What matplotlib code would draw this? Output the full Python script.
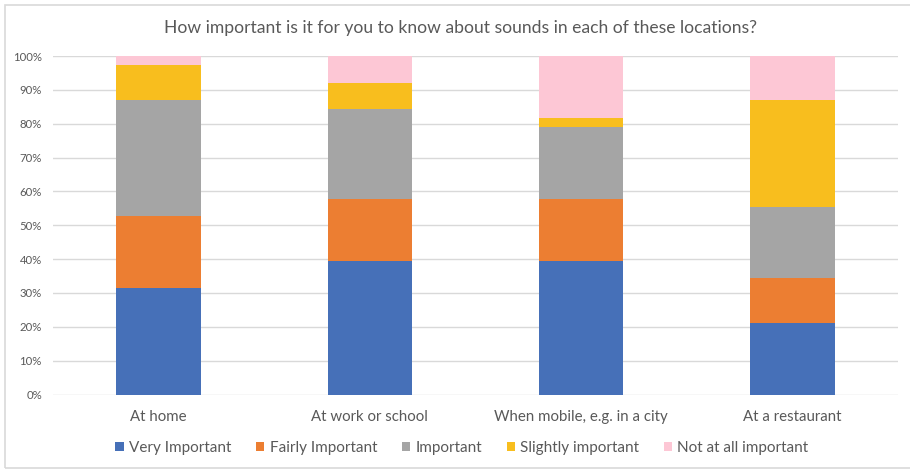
import matplotlib
matplotlib.use("Agg")
import matplotlib.pyplot as plt
from matplotlib.patches import Rectangle
from matplotlib.ticker import PercentFormatter

plt.rcParams['font.family'] = ['Lato', 'DejaVu Sans']

# Survey responses, percent of respondents per location
locations = ["At home", "At work or school", "When mobile, e.g. in a city", "At a restaurant"]
very_important = [31.6, 39.5, 39.5, 21.1]
fairly_important = [21.1, 18.4, 18.4, 13.2]
important = [34.2, 26.3, 21.1, 21.1]
slightly_important = [10.5, 7.9, 2.6, 31.6]
not_important = [2.6, 7.9, 18.4, 13.2]

series_names = ["Very Important", "Fairly Important", "Important",
                "Slightly important", "Not at all important"]
series_values = [very_important, fairly_important, important,
                 slightly_important, not_important]
series_colors = ["#4670B8", "#EC7E32", "#A5A5A5", "#F8BE1E", "#FDC7D5"]

text_color = "#595959"
grid_color = "#D9D9D9"

fig = plt.figure(figsize=(9.10, 4.71), dpi=100)
W, H = 910, 471
ax = fig.add_axes([53 / W, 1 - 394.5 / H, (898 - 53) / W, (394.5 - 56) / H])

x = list(range(len(locations)))
bottom = [0.0] * len(locations)
handles = []
for name, vals, col in zip(series_names, series_values, series_colors):
    b = ax.bar(x, vals, width=0.40, bottom=bottom, color=col, label=name,
               edgecolor="none", zorder=3)
    handles.append(b)
    bottom = [bt + v for bt, v in zip(bottom, vals)]

ax.set_xlim(-0.5, len(locations) - 0.5)
ax.set_ylim(0, 100)
ax.set_yticks(range(0, 101, 10))
ax.yaxis.set_major_formatter(PercentFormatter(decimals=0))
ax.grid(axis="y", color=grid_color, linewidth=1, zorder=0)
for s in ax.spines.values():
    s.set_visible(False)
ax.tick_params(axis="both", length=0, colors=text_color)
ax.tick_params(axis="y", labelsize=8.2, pad=8)
ax.tick_params(axis="x", labelsize=10.8, pad=11)
ax.set_xticks(x)
ax.set_xticklabels(locations)

fig.text(460 / W, 1 - 28 / H,
         "How important is it for you to know about sounds in each of these locations?",
         ha="center", va="center", fontsize=12.6, color=text_color)

leg = fig.legend(handles=handles, labels=series_names, loc="center",
                 bbox_to_anchor=(462 / W, 1 - 448 / H), ncol=5, frameon=False,
                 fontsize=11, handlelength=0.55, handleheight=0.55,
                 handletextpad=0.35, columnspacing=1.6, labelcolor=text_color)

# chart frame
fig.add_artist(Rectangle((5 / W, 3 / H), 1.2, 1 - 8 / H, transform=fig.transFigure,
                         fill=False, edgecolor=grid_color, linewidth=1.2))

fig.savefig("out.png", dpi=100)
